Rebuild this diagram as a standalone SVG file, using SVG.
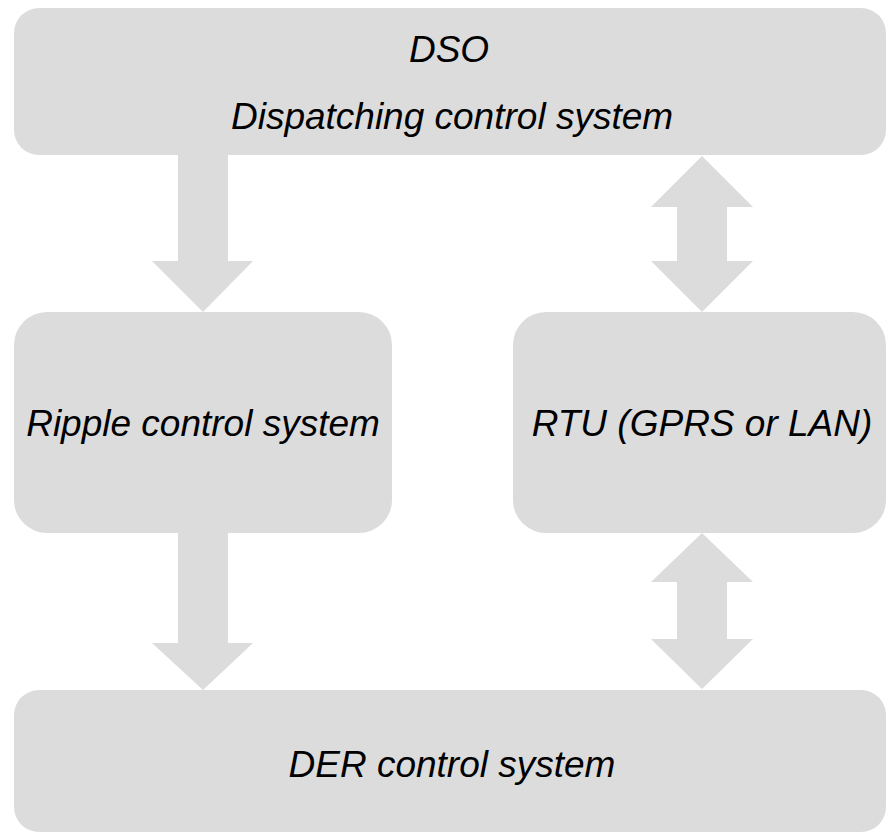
<svg xmlns="http://www.w3.org/2000/svg" width="886" height="832" viewBox="0 0 886 832">
<style>
.box{fill:#dcdcdc}
.arr{fill:#dcdcdc}
text{font-family:"Liberation Sans",Arial,sans-serif;font-style:italic;font-size:37px;fill:#000;text-anchor:middle}
</style>
<rect width="886" height="832" fill="#fff"/>
<g id="connectors">
<polygon class="arr" points="178,155 228,155 228,261 253,261 203,312 152,261 178,261"/>
<polygon class="arr" points="702,156 753,207 727,207 727,261 753,261 702,312 651,261 677,261 677,207 651,207"/>
<polygon class="arr" points="178,533 228,533 228,643 253,643 203,690 152,643 178,643"/>
<polygon class="arr" points="702,533 753,582 727,582 727,639 753,639 702,689 651,639 677,639 677,582 651,582"/>
</g>
<g id="dso">
<rect class="box" x="14" y="8" width="872" height="147" rx="25"/>
<text x="449" y="62">DSO</text>
<text x="452" y="129">Dispatching control system</text>
</g>
<g id="ripple">
<rect class="box" x="14" y="312" width="378" height="221" rx="33"/>
<text x="203" y="436">Ripple control system</text>
</g>
<g id="rtu">
<rect class="box" x="513" y="312" width="373" height="221" rx="33"/>
<text x="702" y="436">RTU (GPRS or LAN)</text>
</g>
<g id="der">
<rect class="box" x="14" y="690" width="872" height="142" rx="25"/>
<text x="452" y="777">DER control system</text>
</g>
</svg>
